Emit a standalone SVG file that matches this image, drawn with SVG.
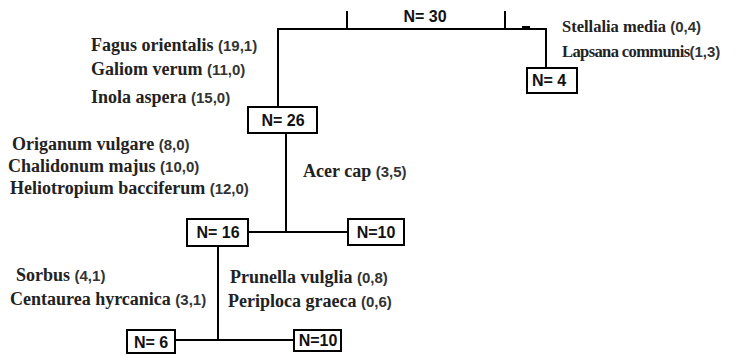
<svg xmlns="http://www.w3.org/2000/svg" width="751" height="358" viewBox="0 0 751 358">
<style>
.ln{stroke:#000;stroke-width:2;fill:none}
.bx{stroke:#000;stroke-width:2;fill:#fff}
.n{font-family:"Liberation Sans",Arial,sans-serif;font-weight:bold;font-size:16px;fill:#111;text-anchor:middle}
.sp{font-family:"Liberation Serif","Times New Roman",serif;font-weight:bold;font-size:18px;fill:#222}
.sm{font-size:16.5px}
.num{font-family:"Liberation Sans",Arial,sans-serif;font-weight:bold;font-size:15px;fill:#333;letter-spacing:0}
</style>
<rect width="751" height="358" fill="#fff"/>
<g id="connectors">
<path class="ln" d="M278,107 V29 H546 V68"/>
<path class="ln" d="M347,11 V29 M505,11 V29 M522,27 H530"/>
<path class="ln" d="M286,133 V232 M248,232 H348"/>
<path class="ln" d="M218,246 V340 M175,340 H294"/>
</g>
<g id="root">
<text class="n" x="425" y="22">N= 30</text>
</g>
<g id="n4">
<rect class="bx" x="527" y="68" width="50" height="25"/>
<text class="n" x="549" y="86">N= 4</text>
</g>
<g id="n26">
<rect class="bx" x="248" y="107" width="69" height="26"/>
<text class="n" x="283" y="126">N= 26</text>
</g>
<g id="n16">
<rect class="bx" x="187" y="219" width="61" height="27"/>
<text class="n" x="218" y="238">N= 16</text>
</g>
<g id="n10a">
<rect class="bx" x="348" y="219" width="56" height="26"/>
<text class="n" x="376" y="238">N=10</text>
</g>
<g id="n6">
<rect class="bx" x="127" y="330" width="48" height="23"/>
<text class="n" x="151" y="348">N= 6</text>
</g>
<g id="n10b">
<rect class="bx" x="294" y="330" width="47" height="21"/>
<text class="n" x="318" y="346">N=10</text>
</g>
<g id="labels">
<text class="sp sm" x="562" y="32">Stellalia media  <tspan class="num">(0,4)</tspan></text>
<text class="sp sm" x="562" y="57" style="letter-spacing:-0.6px">Lapsana communis<tspan class="num">(1,3)</tspan></text>
<text class="sp" x="91" y="51">Fagus orientalis <tspan class="num">(19,1)</tspan></text>
<text class="sp" x="91" y="75">Galiom verum <tspan class="num">(11,0)</tspan></text>
<text class="sp" x="91" y="103">Inola aspera <tspan class="num">(15,0)</tspan></text>
<text class="sp" x="12" y="150">Origanum vulgare <tspan class="num">(8,0)</tspan></text>
<text class="sp" x="8" y="172">Chalidonum majus  <tspan class="num">(10,0)</tspan></text>
<text class="sp" x="10" y="194">Heliotropium bacciferum <tspan class="num">(12,0)</tspan></text>
<text class="sp" x="303" y="177">Acer cap <tspan class="num">(3,5)</tspan></text>
<text class="sp" x="16" y="281">Sorbus <tspan class="num">(4,1)</tspan></text>
<text class="sp" x="10" y="305">Centaurea hyrcanica <tspan class="num">(3,1)</tspan></text>
<text class="sp" x="230" y="283">Prunella vulglia  <tspan class="num">(0,8)</tspan></text>
<text class="sp" x="228" y="307">Periploca graeca <tspan class="num">(0,6)</tspan></text>
</g>
</svg>
